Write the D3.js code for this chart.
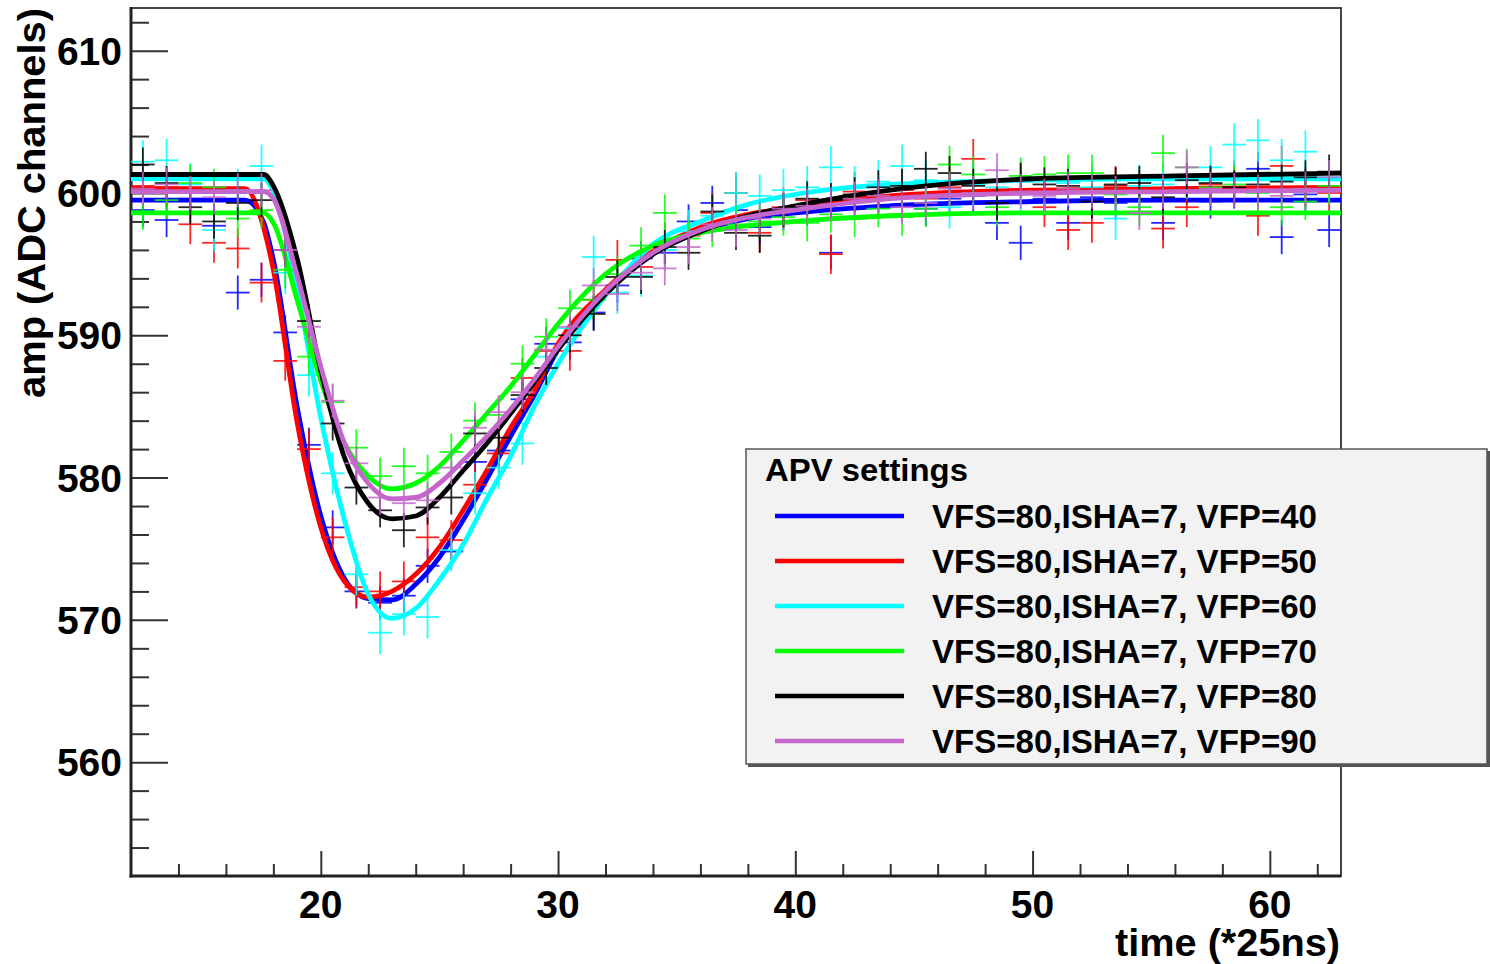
<!DOCTYPE html>
<html>
<head>
<meta charset="utf-8">
<script src="https://cdn.jsdelivr.net/npm/d3@7"></script>
<style>
  html, body { margin: 0; padding: 0; background: #fff; }
  svg { display: block; font-family: "Liberation Sans", Arial, sans-serif; font-weight: bold; }
</style>
</head>
<body>
<svg id="chart" width="1490" height="964"></svg>
<script>
// settings (legend order)
const seriesNames = ["VFS=80,ISHA=7, VFP=40", "VFS=80,ISHA=7, VFP=50", "VFS=80,ISHA=7, VFP=60",
                     "VFS=80,ISHA=7, VFP=70", "VFS=80,ISHA=7, VFP=80", "VFS=80,ISHA=7, VFP=90"];
const seriesColors = ["#0000ff", "#ff0000", "#00ffff", "#00ff00", "#000000", "#c466cc"];

// measured samples, one per time bin (bin centres 12.5 ... 62.5)
const sampleT = d3.range(12.5, 63, 1);
const errY = [1.2, 1.4, 1.5, 1.3, 1.2, 1.2];

const vfp40 = [598.8, 598.1, 599.6, 597.7, 593.0, 593.9, 590.2, 582.3, 576.5, 572.0, 571.2, 571.7, 573.8, 574.8,
  581.1, 581.9, 585.5, 589.4, 589.5, 591.6, 593.5, 595.4, 595.8, 598.0, 599.3, 598.8, 597.6, 598.6, 598.9, 595.8,
  599.4, 599.8, 599.2, 598.9, 599.6, 599.8, 597.9, 596.5, 599.6, 597.9, 599.7, 599.3, 600.0, 597.9, 600.4, 599.4,
  600.1, 601.7, 596.9, 599.9, 597.4];
const vfp50 = [600.5, 600.4, 597.8, 596.5, 596.1, 593.7, 588.2, 582.0, 575.8, 572.3, 572.0, 572.7, 575.8, 575.6,
  579.5, 581.7, 587.0, 588.9, 588.9, 592.5, 595.3, 594.8, 596.5, 597.0, 598.6, 600.0, 597.2, 599.0, 599.5, 595.7,
  600.1, 599.7, 600.2, 599.6, 600.4, 602.4, 600.2, 600.8, 599.0, 597.4, 597.9, 600.5, 600.2, 597.5, 599.0, 600.6,
  600.9, 598.4, 601.9, 600.4, 600.0];
const vfp60 = [602.2, 602.3, 600.6, 597.4, 600.2, 601.9, 594.4, 587.2, 580.3, 573.2, 569.1, 570.4, 570.2, 574.9,
  578.9, 580.7, 582.4, 588.5, 590.5, 595.5, 593.0, 594.2, 596.0, 597.3, 598.4, 600.0, 599.8, 600.2, 600.4, 601.8,
  600.4, 600.8, 601.9, 600.9, 599.0, 600.6, 600.4, 599.9, 600.0, 600.7, 600.4, 598.2, 600.5, 600.6, 601.1, 601.8,
  603.4, 603.7, 602.3, 602.9, 600.9];
const vfp70 = [598.7, 599.5, 600.7, 600.4, 598.2, 598.8, 594.6, 588.5, 585.3, 582.1, 580.1, 580.8, 580.3, 581.8,
  584.0, 584.4, 588.0, 589.9, 591.9, 592.5, 594.3, 596.3, 598.6, 596.8, 597.5, 597.8, 598.0, 598.3, 597.9, 598.5,
  598.2, 598.9, 598.3, 598.9, 602.0, 601.3, 599.0, 601.2, 601.3, 601.4, 601.4, 599.9, 599.0, 602.8, 601.8, 600.4,
  600.6, 600.0, 599.0, 599.4, 600.5];
const vfp80 = [602.0, 600.7, 599.0, 598.0, 599.3, 599.5, 596.0, 591.0, 583.8, 579.3, 577.7, 576.3, 577.9, 578.6,
  583.1, 582.8, 585.8, 587.7, 590.0, 591.5, 594.1, 594.1, 596.2, 595.8, 598.7, 597.2, 597.0, 598.8, 599.6, 599.5,
  599.9, 600.4, 600.5, 601.7, 601.4, 600.5, 599.3, 600.9, 600.6, 600.5, 599.4, 600.6, 600.7, 599.7, 600.9, 600.7,
  600.4, 600.6, 600.8, 601.1, 601.5];
const vfp90 = [600.3, 600.6, 600.0, 599.7, 600.2, 600.2, 596.0, 590.6, 585.4, 581.0, 578.6, 578.2, 578.4, 580.7,
  583.5, 584.6, 586.0, 589.0, 590.6, 593.5, 592.9, 594.4, 594.7, 596.2, 597.8, 597.4, 598.2, 598.9, 599.1, 599.2,
  599.6, 599.8, 599.0, 599.3, 600.3, 600.0, 601.6, 600.1, 599.8, 600.3, 600.1, 600.0, 598.6, 600.1, 601.8, 600.3,
  600.2, 600.1, 599.8, 600.3, 601.1];

// fitted pulse shapes on a common time grid
const fitT = [12, 16.8, 17.6, 18, 19, 20, 21, 22, 23, 24, 25, 26, 27, 28, 29, 30, 32, 34, 36, 38, 40, 44, 50, 56, 63];
const fit40 = [599.5, 599.5, 597.9, 595.3, 585.0, 577.3, 572.9, 571.5, 571.4, 572.5, 574.4, 577.0, 579.9, 582.9,
  585.8, 589.0, 592.9, 595.7, 597.3, 598.2, 598.6, 599.1, 599.4, 599.5, 599.5];
const fit50 = [600.3, 600.3, 597.5, 594.6, 583.9, 576.5, 572.7, 571.6, 572.0, 573.2, 575.1, 577.7, 580.5, 583.5,
  586.1, 589.4, 593.2, 595.9, 597.6, 598.5, 599.0, 599.8, 600.2, 600.3, 600.4];
const fit60 = [601.0, 601.0, 601.0, 600.1, 593.3, 584.2, 577.0, 571.8, 570.1, 570.8, 572.8, 575.3, 578.5, 581.5,
  585.0, 588.0, 592.8, 596.4, 598.0, 599.2, 599.9, 600.6, 600.9, 601.0, 601.0];
const fit70 = [598.6, 598.6, 598.6, 597.9, 592.5, 586.8, 582.4, 580.1, 579.2, 579.6, 580.8, 582.6, 584.5, 586.4,
  588.6, 590.8, 594.3, 596.3, 597.2, 597.7, 598.0, 598.4, 598.6, 598.6, 598.6];
const fit80 = [601.3, 601.3, 601.3, 600.5, 595.4, 587.5, 581.4, 578.2, 577.1, 577.3, 578.6, 580.5, 582.4, 584.5,
  586.7, 589.0, 592.9, 595.7, 597.3, 598.4, 599.1, 600.2, 601.0, 601.2, 601.4];
const fit90 = [600.1, 600.1, 600.1, 599.6, 594.2, 587.8, 582.4, 579.6, 578.5, 578.6, 579.6, 581.2, 582.9, 584.8,
  586.9, 589.2, 593.1, 595.8, 597.4, 598.3, 598.8, 599.6, 600.0, 600.1, 600.2];

const samples = [vfp40, vfp50, vfp60, vfp70, vfp80, vfp90];
const fits = [fit40, fit50, fit60, fit70, fit80, fit90];

const xMajor = [20, 30, 40, 50, 60];
const yMajor = [560, 570, 580, 590, 600, 610];

// layout
const svg = d3.select("#chart");
const padL = 131, padR = 1341, padT = 8, padB = 876;

const x = d3.scaleLinear().domain([12, 63]).range([padL, padR]);
const y = d3.scaleLinear().domain([552, 613]).range([padB, padT]);

svg.append("clipPath").attr("id", "clip")
  .append("rect").attr("x", padL).attr("y", padT).attr("width", padR - padL).attr("height", padB - padT);

// frame
svg.append("rect")
  .attr("x", padL).attr("y", padT).attr("width", padR - padL).attr("height", padB - padT)
  .attr("fill", "none").attr("stroke", "#444").attr("stroke-width", 2);

// axes
const yAxis = d3.axisRight(y).tickValues(yMajor).tickSize(37).tickFormat("");
const yMinor = d3.axisRight(y).tickValues(d3.range(554, 613, 2).filter(v => v % 10 !== 0)).tickSize(18).tickFormat("");
const xAxis = d3.axisTop(x).tickValues(xMajor).tickSize(25).tickFormat("");
const xMinor = d3.axisTop(x).tickValues(d3.range(14, 63, 2).filter(v => v % 10 !== 0)).tickSize(12).tickFormat("");

[[yAxis, `translate(${padL},0)`], [yMinor, `translate(${padL},0)`],
 [xAxis, `translate(0,${padB})`], [xMinor, `translate(0,${padB})`]].forEach(([ax, tr]) => {
  const g = svg.append("g").attr("transform", tr).call(ax);
  g.select(".domain").remove();
  g.selectAll(".tick line").attr("stroke", "#333").attr("stroke-width", 2);
});

svg.append("line").attr("x1", padL).attr("x2", padL).attr("y1", padT - 1).attr("y2", padB + 1.5)
  .attr("stroke", "#222").attr("stroke-width", 3);
svg.append("line").attr("x1", padL - 1.5).attr("x2", padR).attr("y1", padB).attr("y2", padB)
  .attr("stroke", "#222").attr("stroke-width", 3);

// tick labels
svg.selectAll(".ylab").data(yMajor).enter().append("text")
  .attr("x", 122).attr("y", d => y(d) + 14)
  .attr("text-anchor", "end").attr("font-size", 39)
  .text(d => d);
svg.selectAll(".xlab").data(xMajor).enter().append("text")
  .attr("x", d => x(d)).attr("y", 918)
  .attr("text-anchor", "middle").attr("font-size", 39)
  .text(d => d);

// axis titles
svg.append("text").attr("x", 1340).attr("y", 956)
  .attr("text-anchor", "end").attr("font-size", 38)
  .attr("textLength", 225).attr("lengthAdjust", "spacingAndGlyphs")
  .text("time (*25ns)");
svg.append("text")
  .attr("transform", "translate(45,8) rotate(-90)")
  .attr("text-anchor", "end").attr("font-size", 38)
  .attr("textLength", 390).attr("lengthAdjust", "spacingAndGlyphs")
  .text("amp (ADC channels)");

// data + fits
const line = d3.line().x(d => x(d[0])).y(d => y(d[1])).curve(d3.curveMonotoneX);
const body = svg.append("g").attr("clip-path", "url(#clip)");

samples.forEach((vals, i) => {
  const col = seriesColors[i];
  const g = body.append("g");
  const pts = g.selectAll("g").data(vals.map((v, j) => [sampleT[j], v])).enter().append("g");
  pts.append("line")
    .attr("x1", d => x(d[0] - 0.5)).attr("x2", d => x(d[0] + 0.5))
    .attr("y1", d => y(d[1])).attr("y2", d => y(d[1]))
    .attr("stroke", col).attr("stroke-width", 1.8).attr("stroke-opacity", 0.85);
  pts.append("line")
    .attr("x1", d => x(d[0])).attr("x2", d => x(d[0]))
    .attr("y1", d => y(d[1] - errY[i])).attr("y2", d => y(d[1] + errY[i]))
    .attr("stroke", col).attr("stroke-width", 1.8).attr("stroke-opacity", 0.85);

  body.append("path")
    .datum(fits[i].map((v, j) => [fitT[j], v]))
    .attr("d", line)
    .attr("fill", "none").attr("stroke", col).attr("stroke-width", 4.8)
    .attr("stroke-linejoin", "round");
});

// legend
const lg = svg.append("g");
lg.append("rect").attr("x", 748).attr("y", 451).attr("width", 742).attr("height", 316).attr("fill", "#555");
lg.append("rect").attr("x", 746).attr("y", 449).attr("width", 741).attr("height", 315)
  .attr("fill", "#f2f2f2").attr("stroke", "#555").attr("stroke-width", 1.5);
lg.append("text").attr("x", 765).attr("y", 481).attr("font-size", 32)
  .attr("textLength", 203).attr("lengthAdjust", "spacingAndGlyphs")
  .text("APV settings");

seriesNames.forEach((name, i) => {
  const ly = 516 + i * 45;
  lg.append("line").attr("x1", 775).attr("x2", 904).attr("y1", ly).attr("y2", ly)
    .attr("stroke", seriesColors[i]).attr("stroke-width", 4.5);
  lg.append("text").attr("x", 932).attr("y", ly + 12).attr("font-size", 33)
    .attr("textLength", 385).attr("lengthAdjust", "spacingAndGlyphs")
    .text(name);
});
</script>
</body>
</html>
